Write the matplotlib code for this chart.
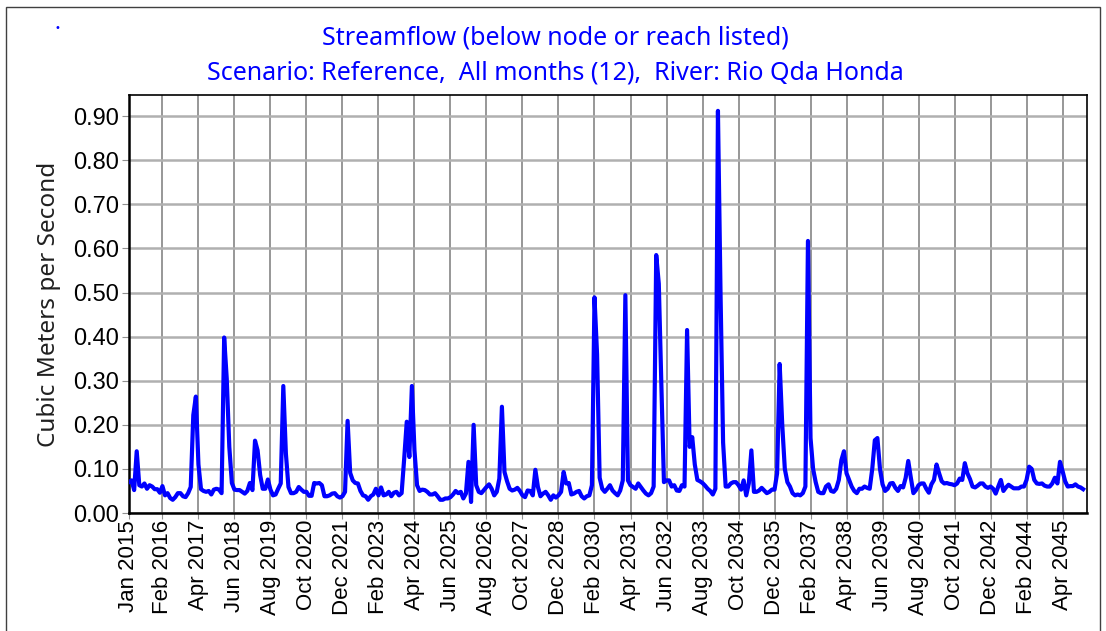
import matplotlib.pyplot as plt
from matplotlib.patches import Rectangle

# monthly streamflow, Jan 2015 .. Dec 2045 (m3/s)
flow = [
    0.070, 0.074, 0.052, 0.140, 0.063, 0.060, 0.067, 0.055, 0.063, 0.060, 0.054, 0.054,  # 2015
    0.046, 0.061, 0.040, 0.045, 0.034, 0.030, 0.036, 0.045, 0.045, 0.038, 0.036, 0.045,  # 2016
    0.059, 0.222, 0.264, 0.110, 0.054, 0.050, 0.048, 0.050, 0.042, 0.053, 0.055, 0.053,  # 2017
    0.045, 0.398, 0.305, 0.150, 0.068, 0.053, 0.052, 0.052, 0.048, 0.044, 0.050, 0.068,  # 2018
    0.052, 0.164, 0.142, 0.086, 0.055, 0.055, 0.076, 0.053, 0.040, 0.042, 0.055, 0.067,  # 2019
    0.288, 0.135, 0.059, 0.045, 0.045, 0.048, 0.059, 0.053, 0.048, 0.048, 0.039, 0.039,  # 2020
    0.068, 0.067, 0.068, 0.063, 0.038, 0.038, 0.040, 0.044, 0.045, 0.038, 0.035, 0.038,  # 2021
    0.048, 0.209, 0.091, 0.074, 0.068, 0.067, 0.050, 0.040, 0.038, 0.030, 0.038, 0.042,  # 2022
    0.055, 0.040, 0.058, 0.040, 0.042, 0.048, 0.038, 0.046, 0.048, 0.040, 0.045, 0.123,  # 2023
    0.207, 0.127, 0.288, 0.142, 0.063, 0.050, 0.053, 0.052, 0.048, 0.042, 0.042, 0.045,  # 2024
    0.038, 0.030, 0.030, 0.033, 0.033, 0.036, 0.042, 0.050, 0.045, 0.048, 0.033, 0.044,  # 2025
    0.116, 0.025, 0.200, 0.063, 0.048, 0.045, 0.052, 0.059, 0.065, 0.055, 0.040, 0.048,  # 2026
    0.078, 0.241, 0.093, 0.072, 0.055, 0.051, 0.053, 0.057, 0.050, 0.040, 0.036, 0.051,  # 2027
    0.050, 0.040, 0.098, 0.059, 0.038, 0.044, 0.048, 0.040, 0.030, 0.040, 0.035, 0.040,  # 2028
    0.048, 0.093, 0.067, 0.068, 0.042, 0.044, 0.048, 0.050, 0.038, 0.033, 0.038, 0.040,  # 2029
    0.063, 0.489, 0.360, 0.080, 0.055, 0.048, 0.055, 0.063, 0.051, 0.045, 0.040, 0.051,  # 2030
    0.074, 0.494, 0.074, 0.063, 0.059, 0.055, 0.067, 0.059, 0.051, 0.044, 0.040, 0.045,  # 2031
    0.060, 0.585, 0.520, 0.290, 0.070, 0.074, 0.074, 0.060, 0.063, 0.051, 0.050, 0.063,  # 2032
    0.060, 0.415, 0.150, 0.172, 0.110, 0.075, 0.072, 0.068, 0.062, 0.055, 0.050, 0.042,  # 2033
    0.055, 0.912, 0.500, 0.160, 0.060, 0.060, 0.067, 0.070, 0.070, 0.063, 0.053, 0.074,  # 2034
    0.040, 0.067, 0.142, 0.048, 0.048, 0.051, 0.057, 0.051, 0.045, 0.048, 0.053, 0.053,  # 2035
    0.090, 0.338, 0.200, 0.100, 0.070, 0.060, 0.045, 0.040, 0.042, 0.040, 0.045, 0.060,  # 2036
    0.617, 0.170, 0.100, 0.070, 0.048, 0.045, 0.045, 0.060, 0.065, 0.050, 0.048, 0.055,  # 2037
    0.075, 0.120, 0.140, 0.090, 0.075, 0.060, 0.050, 0.045, 0.055, 0.055, 0.060, 0.057,  # 2038
    0.055, 0.100, 0.165, 0.170, 0.100, 0.065, 0.050, 0.055, 0.067, 0.068, 0.057, 0.050,  # 2039
    0.061, 0.058, 0.080, 0.118, 0.080, 0.045, 0.052, 0.063, 0.067, 0.067, 0.055, 0.046,  # 2040
    0.065, 0.075, 0.110, 0.090, 0.072, 0.067, 0.068, 0.066, 0.065, 0.063, 0.067, 0.078,  # 2041
    0.075, 0.113, 0.090, 0.077, 0.060, 0.058, 0.062, 0.067, 0.067, 0.060, 0.057, 0.060,  # 2042
    0.055, 0.044, 0.060, 0.075, 0.050, 0.058, 0.064, 0.060, 0.056, 0.056, 0.056, 0.060,  # 2043
    0.060, 0.075, 0.105, 0.100, 0.075, 0.067, 0.066, 0.067, 0.062, 0.060, 0.060, 0.067,  # 2044
    0.080, 0.067, 0.116, 0.095, 0.072, 0.060, 0.061, 0.061, 0.065, 0.060, 0.058, 0.054,  # 2045
]

tick_labels = [
    "Jan 2015", "Feb 2016", "Apr 2017", "Jun 2018", "Aug 2019", "Oct 2020",
    "Dec 2021", "Feb 2023", "Apr 2024", "Jun 2025", "Aug 2026", "Oct 2027",
    "Dec 2028", "Feb 2030", "Apr 2031", "Jun 2032", "Aug 2033", "Oct 2034",
    "Dec 2035", "Feb 2037", "Apr 2038", "Jun 2039", "Aug 2040", "Oct 2041",
    "Dec 2042", "Feb 2044", "Apr 2045",
]
y_ticks = [0.0, 0.1, 0.2, 0.3, 0.4, 0.5, 0.6, 0.7, 0.8, 0.9]

MONTHS = ["Jan", "Feb", "Mar", "Apr", "May", "Jun",
          "Jul", "Aug", "Sep", "Oct", "Nov", "Dec"]


def month_index(label):
    mon, year = label.split()
    return (int(year) - 2015) * 12 + MONTHS.index(mon)


W, H = 1106, 631
fig = plt.figure(figsize=(W / 100, H / 100), dpi=100)
ax = fig.add_axes([129 / W, 1 - 513 / H, (1087 - 129) / W, (513 - 95) / H])

ax.plot(range(len(flow)), flow, color="#0000ff", linewidth=3.0,
        solid_joinstyle="round", zorder=3)

ax.set_xlim(0, 372.5)
ax.set_ylim(0, 0.948)

ax.set_xticks([month_index(l) for l in tick_labels])
ax.set_xticklabels(tick_labels, rotation=90, fontsize=16,
                   family="Liberation Sans")
ax.set_yticks(y_ticks)
ax.set_yticklabels([f"{v:.2f}" for v in y_ticks], fontsize=17,
                   family="Liberation Sans")
ax.tick_params(axis="x", length=4, pad=1, color="#909090")
ax.tick_params(axis="y", length=5, pad=2, color="#909090")

ax.xaxis.grid(True, color="#8f8f8f", linewidth=1.3)
ax.yaxis.grid(True, color="#b0b0b0", linewidth=1.8)
ax.set_axisbelow(True)

for side in ["left", "bottom"]:
    ax.spines[side].set_linewidth(1.8)
for side in ["top", "right"]:
    ax.spines[side].set_linewidth(1.2)

ax.set_ylabel("Cubic Meters per Second", fontsize=17.5, family="Noto Sans",
              color="#202020", labelpad=9)

fig.text(555 / W, 1 - 38 / H, "Streamflow (below node or reach listed)",
         ha="center", va="center", fontsize=18, family="Noto Sans",
         color="#0000ff")
fig.text(555 / W, 1 - 73 / H,
         "Scenario: Reference,  All months (12),  River: Rio Qda Honda",
         ha="center", va="center", fontsize=18, family="Noto Sans",
         color="#0000ff")
fig.text(57 / W, 1 - 28 / H, "\u2022", ha="center", va="center",
         fontsize=7, color="#0000ff")

# outer frame of the chart window
fig.patches.append(Rectangle((6 / W, -0.05), (1100 - 6) / W, 1.05 - 7 / H,
                             transform=fig.transFigure, fill=False,
                             edgecolor="#404040", linewidth=1.0))

fig.savefig("out.png", dpi=100)
